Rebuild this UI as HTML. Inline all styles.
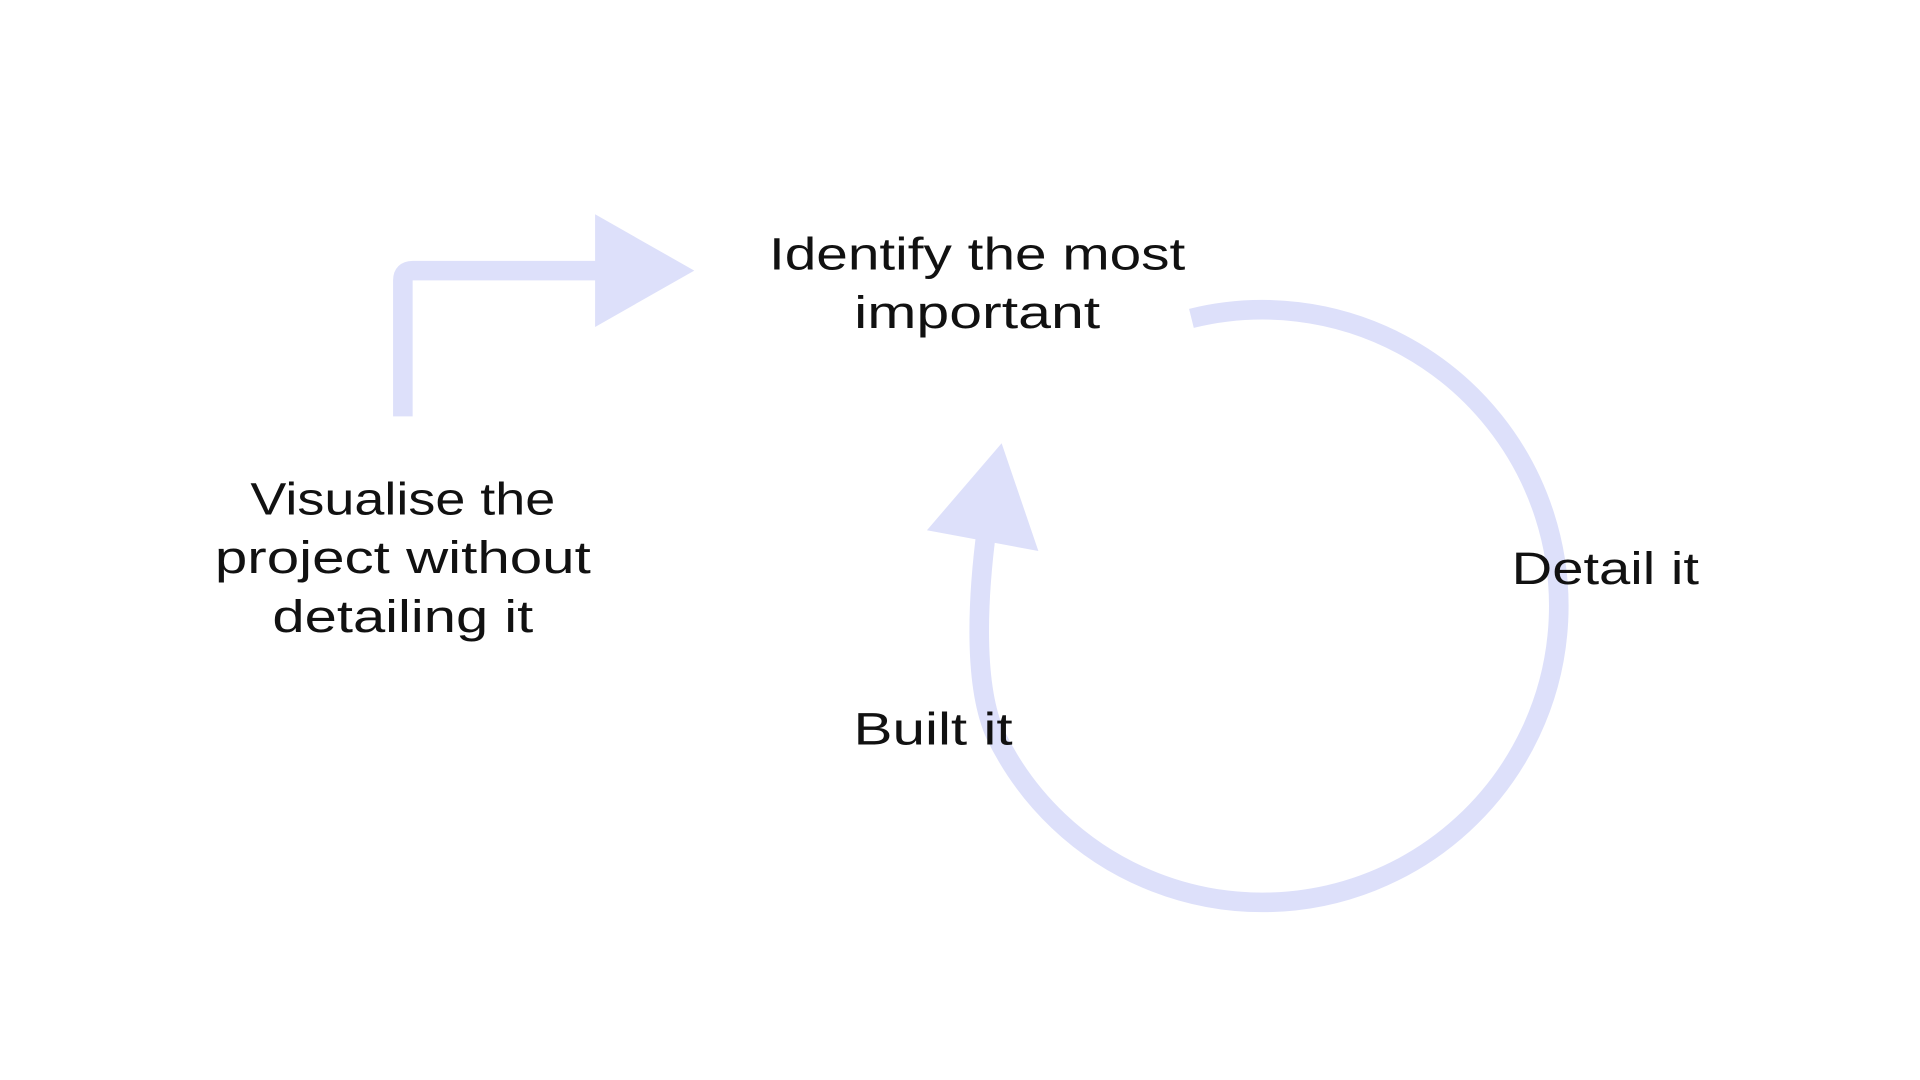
<!DOCTYPE html>
<html><head><meta charset="utf-8"><style>
html,body{margin:0;padding:0;background:#fff;width:1920px;height:1080px;overflow:hidden}
svg{display:block}
text{font-family:"Liberation Sans",sans-serif;font-size:37px;fill:#111;text-anchor:middle}
</style></head><body>
<svg width="1920" height="1080" viewBox="0 0 1568 882" xmlns="http://www.w3.org/2000/svg">
<path d="M329 340 V229 Q329 221 337 221 H500" fill="none" stroke="#dde0fa" stroke-width="16"/>
<polygon points="486,175 567,221 486,267" fill="#dde0fa"/>
<path d="M973 260 A242 242 0 1 1 813 600 C795 560 798 490 806 430" fill="none" stroke="#dde0fa" stroke-width="16"/>
<polygon points="818,362 757,433 848,450" fill="#dde0fa"/>
<text x="798" y="220" textLength="340" lengthAdjust="spacingAndGlyphs">Identify the most</text>
<text x="798" y="268" textLength="201" lengthAdjust="spacingAndGlyphs">important</text>
<text x="329" y="420" textLength="249" lengthAdjust="spacingAndGlyphs">Visualise the</text>
<text x="329" y="468" textLength="307" lengthAdjust="spacingAndGlyphs">project without</text>
<text x="329" y="516" textLength="213" lengthAdjust="spacingAndGlyphs">detailing it</text>
<text x="1311" y="477" textLength="153" lengthAdjust="spacingAndGlyphs">Detail it</text>
<text x="762" y="608" textLength="130" lengthAdjust="spacingAndGlyphs">Built it</text>
</svg>
</body></html>
